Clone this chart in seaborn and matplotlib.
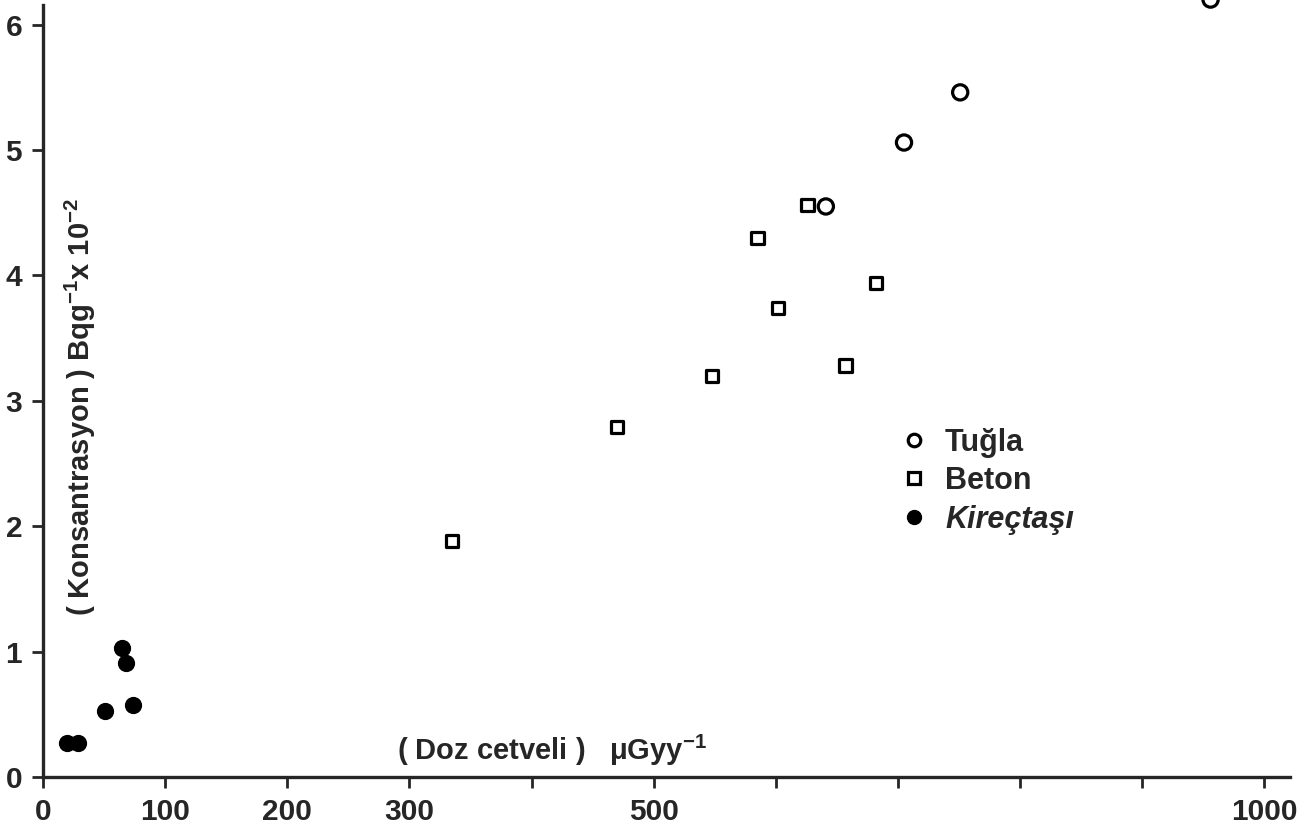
import pandas as pd
import seaborn as sns
from matplotlib import pyplot as plt
from matplotlib.lines import Line2D

# Tugla (brick) - open circles
tugla_doz = [641, 705, 751, 956]
tugla_kons = [4.55, 5.06, 5.46, 6.20]

# Beton (concrete) - open squares
beton_doz = [335, 470, 548, 585, 602, 626, 657, 682]
beton_kons = [1.88, 2.79, 3.20, 4.30, 3.74, 4.56, 3.28, 3.94]

# Kirectasi (limestone) - filled circles
kirec_doz = [20, 29, 51, 65, 68, 74]
kirec_kons = [0.27, 0.27, 0.53, 1.03, 0.91, 0.57]

x_ticks = [0, 100, 200, 300, 400, 500, 600, 700, 800, 900, 1000]
x_tick_labels = ["0", "100", "200", "300", "", "500", "", "", "", "", "1000"]
y_ticks = [0, 1, 2, 3, 4, 5, 6]

sns.set_style("ticks")
plt.rcParams['font.family'] = ['Liberation Sans', 'DejaVu Sans']
plt.rcParams['font.weight'] = 'bold'
plt.rcParams['axes.labelweight'] = 'bold'
plt.rcParams['mathtext.fontset'] = 'custom'
plt.rcParams['mathtext.bf'] = 'Liberation Sans:bold'
plt.rcParams['mathtext.rm'] = 'Liberation Sans:bold'
plt.rcParams['mathtext.default'] = 'bf'

df_t = pd.DataFrame({"doz": tugla_doz, "kons": tugla_kons})
df_b = pd.DataFrame({"doz": beton_doz, "kons": beton_kons})
df_k = pd.DataFrame({"doz": kirec_doz, "kons": kirec_kons})

fig = plt.figure(figsize=(13.14, 8.35), dpi=100)
ax = fig.add_axes([0.0327, 0.0695, 0.949, 0.925])

sns.scatterplot(data=df_t, x="doz", y="kons", ax=ax, marker="o", s=120,
                facecolor="none", edgecolor="black", linewidth=2.3, clip_on=False)
sns.scatterplot(data=df_b, x="doz", y="kons", ax=ax, marker="s", s=80,
                facecolor="none", edgecolor="black", linewidth=2.3)
sns.scatterplot(data=df_k, x="doz", y="kons", ax=ax, marker="o", s=130,
                color="black", edgecolor="black", linewidth=1)

ax.set_xlim(0, 1021)
ax.set_ylim(0, 6.16)
ax.set_xticks(x_ticks)
ax.set_xticklabels(x_tick_labels)
ax.set_yticks(y_ticks)
ax.tick_params(axis="both", direction="out", length=8, width=2, labelsize=21.5, pad=7)

sns.despine(ax=ax)
for side in ["left", "bottom"]:
    ax.spines[side].set_linewidth(2.4)

# axis titles sit inside the plot like in the original drawing
ax.set_xlabel("( Doz cetveli )   μGyy$^{-1}$", fontsize=21, fontweight="bold")
ax.xaxis.set_label_coords(0.408, 0.057)
ax.set_ylabel("( Konsantrasyon ) Bqg$^{-1}$x 10$^{-2}$", fontsize=21, fontweight="bold")
ax.yaxis.set_label_coords(0.044, 0.479)

handles = [
    Line2D([], [], marker="o", linestyle="none", markersize=9, markerfacecolor="none",
           markeredgecolor="black", markeredgewidth=2.3),
    Line2D([], [], marker="s", linestyle="none", markersize=8, markerfacecolor="none",
           markeredgecolor="black", markeredgewidth=2.3),
    Line2D([], [], marker="o", linestyle="none", markersize=10, color="black"),
]
leg = ax.legend(handles, ["Tuğla", "Beton", "Kireçtaşı"], loc="upper left",
                bbox_to_anchor=(0.667, 0.488), frameon=False, fontsize=22,
                handlelength=0.8, handletextpad=0.6, labelspacing=0.28)
leg.get_texts()[2].set_fontstyle("italic")

plt.savefig("out.png", dpi=100)
